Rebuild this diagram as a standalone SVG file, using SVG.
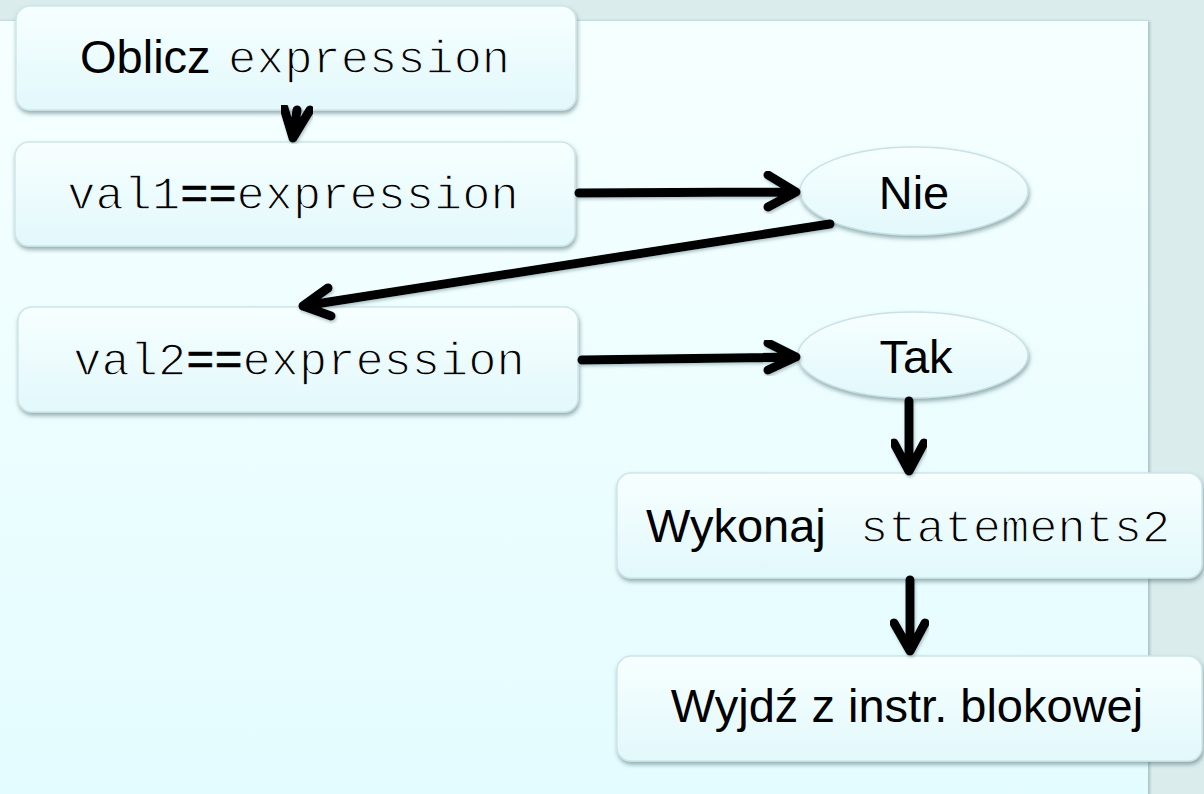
<svg xmlns="http://www.w3.org/2000/svg" width="1204" height="794" viewBox="0 0 1204 794">
<style>
.box{fill:url(#boxg);stroke:#cfe6e9;stroke-width:1.5;filter:url(#sh)}
.ell{fill:url(#boxg);stroke:#c9e2e5;stroke-width:1.5;filter:url(#sh)}
.sans{font-family:"Liberation Sans",Arial,sans-serif;font-size:47px;fill:#000}
.mono{font-family:"Liberation Mono","Courier New",monospace;font-size:47px;fill:#000;stroke:#eefcfd;stroke-width:1.3}
.bold{stroke:#000;stroke-width:0.6}
.conn{fill:none;stroke:#000;stroke-width:9;stroke-linecap:round;stroke-linejoin:round;filter:url(#ash)}
</style>
<defs>
<linearGradient id="panelg" x1="0" y1="0" x2="0" y2="1">
<stop offset="0" stop-color="#f6ffff"/>
<stop offset="1" stop-color="#e3fcff"/>
</linearGradient>
<linearGradient id="boxg" x1="0" y1="0" x2="0" y2="1">
<stop offset="0" stop-color="#f7ffff"/>
<stop offset="1" stop-color="#e2f8fb"/>
</linearGradient>
<filter id="sh" x="-5%" y="-10%" width="110%" height="130%">
<feDropShadow dx="1" dy="3" stdDeviation="2" flood-color="#4d6e73" flood-opacity="0.55"/>
</filter>
<filter id="ash" x="-10%" y="-10%" width="120%" height="130%">
<feDropShadow dx="1" dy="2" stdDeviation="1.5" flood-color="#4d6e73" flood-opacity="0.4"/>
</filter>
<filter id="psh" x="-5%" y="-5%" width="110%" height="110%">
<feDropShadow dx="2" dy="0" stdDeviation="1.5" flood-color="#8fb0b4" flood-opacity="0.7"/>
</filter>
</defs>
<rect x="0" y="0" width="1204" height="794" fill="#dbeced"/>
<rect x="-10" y="21" width="1158" height="790" fill="url(#panelg)" filter="url(#psh)"/>

<g id="n1">
<rect class="box" x="16" y="6" width="560" height="104" rx="14"/>
<text y="73"><tspan class="sans" x="80">Oblicz</tspan><tspan class="mono" x="228">expression</tspan></text>
</g>
<g id="n2">
<rect class="box" x="15" y="142" width="560" height="104" rx="14"/>
<text class="mono" x="293" y="209" text-anchor="middle">val1<tspan class="bold">==</tspan>expression</text>
</g>
<g id="n3">
<ellipse class="ell" cx="914" cy="191" rx="114" ry="44"/>
<text class="sans" x="914" y="209" text-anchor="middle">Nie</text>
</g>
<g id="n4">
<rect class="box" x="18" y="307" width="560" height="105" rx="14"/>
<text class="mono" x="299" y="375" text-anchor="middle">val2<tspan class="bold">==</tspan>expression</text>
</g>
<g id="n5">
<ellipse class="ell" cx="913" cy="355" rx="115" ry="43"/>
<text class="sans" x="916" y="373" text-anchor="middle">Tak</text>
</g>
<g id="n6">
<rect class="box" x="617" y="473" width="585" height="105" rx="14"/>
<text y="542"><tspan class="sans" x="646">Wykonaj</tspan><tspan class="mono" x="860">statements2</tspan></text>
</g>
<g id="n7">
<rect class="box" x="617" y="656" width="585" height="105" rx="14"/>
<text class="sans" x="907" y="722" text-anchor="middle">Wyjdź z instr. blokowej</text>
</g>

<g id="connectors">
<path class="conn" d="M297 110 L293 138 M284 108 L293 138 L310 110"/>
<path class="conn" d="M579 193 L796 192 M768 175 L796 192 L768 207"/>
<path class="conn" d="M830 224 L303 306 M328 288 L303 306 L331 316"/>
<path class="conn" d="M582 360 L796 357 M768 343 L796 357 L768 370"/>
<path class="conn" d="M909 401 L909 471 M894 443 L909 471 L924 443"/>
<path class="conn" d="M910 580 L910 651 M894 623 L910 651 L925 623"/>
</g>
</svg>
